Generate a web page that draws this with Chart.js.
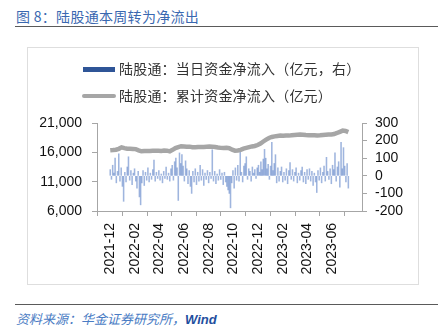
<!DOCTYPE html>
<html>
<head>
<meta charset="utf-8">
<script src="https://cdn.jsdelivr.net/npm/chart.js@4.4.1/dist/chart.umd.min.js"></script>
<style>
  html, body { margin:0; padding:0; background:#fff; }
  body { width:438px; height:328px; position:relative; overflow:hidden; font-family:"Noto Sans CJK SC","Noto Sans",sans-serif; }
  #title { position:absolute; left:16px; top:6px; font-size:14px; color:#3a68b0; letter-spacing:0.3px; white-space:nowrap; }
  #tline { position:absolute; left:15px; top:26px; width:423px; height:0; border-top:1.5px solid #5a5a5a; }
  #box { position:absolute; left:27px; top:47px; width:390px; height:236px; border:1px solid #dedede; }
  #c { position:absolute; left:0; top:0; z-index:2; }
  .lg { position:absolute; z-index:3; white-space:nowrap; font-size:14px; color:#333; letter-spacing:0.2px; }
  .mk { position:absolute; z-index:3; }
  #fline { position:absolute; left:15px; top:304px; width:423px; height:0; border-top:1.5px solid #5a5a5a; }
  #foot { position:absolute; left:16px; top:309px; font-size:13px; font-style:italic; color:#4a7cc4; white-space:nowrap; }
  #foot b { color:#1f4fa0; font-family:"Liberation Sans",Arial,sans-serif; font-weight:bold; }
</style>
</head>
<body>
<div id="title">图 8：陆股通本周转为净流出</div>
<div id="tline"></div>
<div id="box"></div>
<div class="mk" style="left:83px;top:67px;width:32px;height:5px;background:#2f5597;"></div>
<div class="lg" style="left:119px;top:58px;">陆股通：当日资金净流入（亿元，右）</div>
<div class="mk" style="left:82px;top:94px;width:34px;height:4px;background:#a6a6a6;border-radius:2px;"></div>
<div class="lg" style="left:119px;top:85px;">陆股通：累计资金净流入（亿元）</div>
<canvas id="c" width="438" height="328"></canvas>
<div id="fline"></div>
<div id="foot">资料来源：华金证券研究所，<b>Wind</b></div>
<script>
// x positions are calendar days since 2021-12-01
const tickDays   = [0, 62, 121, 182, 243, 304, 365, 427, 486, 547];
const tickLabels = ["2021-12","2022-02","2022-04","2022-06","2022-08","2022-10","2022-12","2023-02","2023-04","2023-06"];

// daily net inflow (亿元, right axis), one sample every 3 days
const dailyFlow = [
  35, -20, 60, 15, 100, -40, 25, 125, -30, 45,
  -60, -145, 20, -35, 50, 108, -25, 30, -50, 15,
  40, -30, -70, 25, -120, -165, -40, 30, -55, 20,
  -25, 45, -35, 15, -20, 35, 90, -30, 20, -15,
  30, -25, 10, -40, 25, -15, 50, -20, 15, -30,
  40, 60, -25, 80, 100, 45, -140, 130, 70, 120,
  55, -30, 85, 40, -45, 30, -60, -100, 25, -35,
  40, -50, 20, -30, 60, -25, 35, -55, 15, -20,
  30, -40, 20, -15, 148, -30, 25, -45, 10, -25,
  35, -20, 15, -50, 20, -35, -60, -80, -100, -182,
  -40, 30, -70, 45, -25, 60, -30, 148, 20, -35,
  55, 70, 108, -20, 40, 25, -30, 50, 15, 35,
  -15, 45, 60, 20, 80, 35, 95, 150, 100, 40,
  65, -20, 55, 190, 30, 70, 120, -40, 45, -30,
  25, 50, -35, 20, -25, 40, -45, 30, 75, -20,
  35, -30, 20, 45, -40, 15, -25, 30, 50, -35,
  20, -45, 35, -20, 40, -30, 25, -55, 15, -35,
  -95, 30, -25, 45, -40, 20, 55, -30, 105, 25,
  -20, 40, -45, 60, 35, 130, -30, 50, 80, -65,
  190, 40, 160, 55, -35, 70, -70
];
const flowStep = 3;

// cumulative net inflow (亿元, left axis), one sample every 7 days
const cumFlow = [
  16340, 16380, 16440, 16600, 16850, 16720, 16620, 16600, 16570, 16550,
  16350, 16180, 16210, 16240, 16220, 16260, 16250, 16280, 16240, 16300,
  16290, 16170, 16420, 16720, 16900, 17050, 17000, 16960, 16970, 16880,
  16850, 16900, 16930, 16920, 16950, 16980, 16970, 16900, 16820, 16760,
  16740, 16760, 16700, 16450, 16280, 16320, 16420, 16630, 16750, 16880,
  17010, 17080, 17250, 17500, 17850, 18170, 18450, 18620, 18720, 18800,
  18850, 18820, 18870, 18850, 18900, 18950, 18980, 19020, 19000, 18950,
  18920, 18930, 18900, 18880, 18900, 18950, 18980, 19020, 19050, 19120,
  19300, 19500, 19700, 19650, 19450
];
const cumStep = 7;

const flowPts = dailyFlow.map((v, i) => ({ x: i * flowStep, y: v }));
const cumPts  = cumFlow.map((v, i) => ({ x: i * cumStep, y: v }));

const axisColor = '#a6a6a6';
const tickFont = { family: '"Liberation Sans", Arial, sans-serif', size: 14 };

new Chart(document.getElementById('c'), {
  data: {
    datasets: [
      { type: 'line', label: '陆股通：累计资金净流入（亿元）', data: cumPts, yAxisID: 'y',
        borderColor: '#a6a6a6', borderWidth: 4.5, pointRadius: 0, tension: 0, order: 0 },
      { type: 'bar', label: '陆股通：当日资金净流入（亿元，右）', data: flowPts, yAxisID: 'y1',
        backgroundColor: 'rgba(80,120,195,0.55)', barThickness: 0.9, order: 1 }
    ]
  },
  options: {
    responsive: false,
    devicePixelRatio: 1,
    animation: false,
    layout: { padding: { top: 123, left: 0, right: 0, bottom: 0 } },
    plugins: { legend: { display: false }, tooltip: { enabled: false } },
    scales: {
      x: {
        type: 'linear', min: 0, max: 589,
        afterBuildTicks: s => { s.ticks = tickDays.map(v => ({ value: v })); },
        afterFit: s => { s.height = 117; },
        ticks: { autoSkip: false, maxRotation: 90, minRotation: 90, padding: 7, color: '#111', font: tickFont,
                 callback: (v, i) => tickLabels[i] },
        grid: { display: true, drawOnChartArea: false, drawTicks: true, tickLength: 5, color: axisColor },
        border: { display: true, color: axisColor }
      },
      y: {
        position: 'left', min: 6000, max: 21000,
        afterFit: s => { s.width = 97; },
        ticks: { autoSkip: false, stepSize: 5000, padding: 10, color: '#111', font: tickFont,
                 callback: v => v.toLocaleString('en-US') },
        grid: { display: true, drawOnChartArea: false, drawTicks: true, tickLength: 5, color: axisColor },
        border: { display: true, color: axisColor }
      },
      y1: {
        position: 'right', min: -200, max: 300,
        afterFit: s => { s.width = 76; },
        ticks: { autoSkip: false, stepSize: 100, padding: 8, color: '#111', font: tickFont },
        grid: { display: true, drawOnChartArea: false, drawTicks: true, tickLength: 5, color: axisColor },
        border: { display: true, color: axisColor }
      }
    }
  }
});
</script>
</body>
</html>
